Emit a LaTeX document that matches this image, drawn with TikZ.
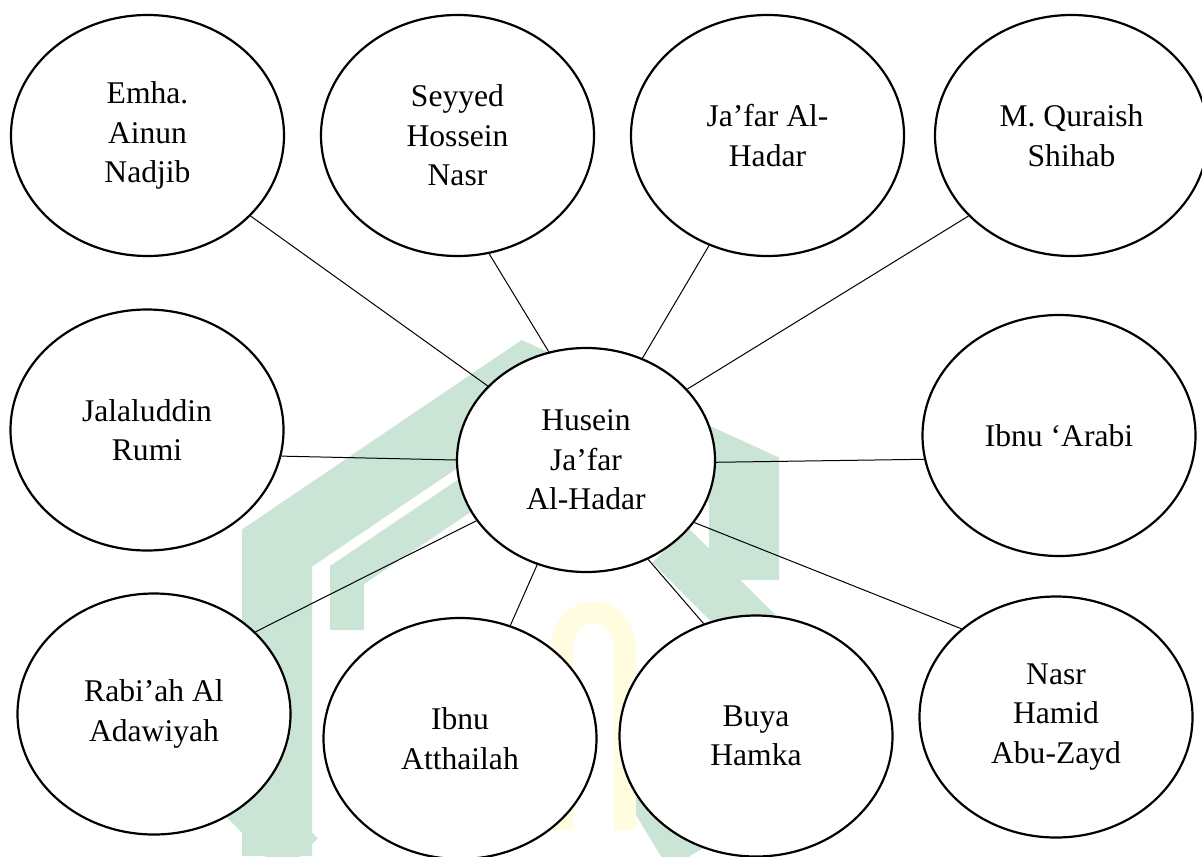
\documentclass[tikz,border=0pt]{standalone}
\usepackage{fontspec}
\setmainfont{Liberation Serif}
\usetikzlibrary{shapes.geometric}
\definecolor{wmgreen}{RGB}{202,228,213}
\definecolor{wmyellow}{RGB}{255,252,224}
\begin{document}
\begin{tikzpicture}[x=0.5pt,y=-0.5pt,
  person/.style={ellipse, draw, fill=white, line width=1.1pt,
    minimum width=136.5pt, minimum height=120.5pt, inner sep=0pt,
    align=center, font=\fontsize{15.8}{19.75}\selectfont},
  hub/.style={person, minimum width=129pt, minimum height=112pt},
  link/.style={line width=0.5pt},
  wm/.style={draw=wmgreen, line join=miter},
  wmy/.style={draw=wmyellow}]
\useasboundingbox (0,0) rectangle (1202,856);
% faint watermark
\draw[wm, line width=35pt] (277,856) -- (277,548) -- (525,380) -- (744,480) -- (744,580);
\draw[wm, line width=17pt] (347,630) -- (347,575) -- (470,492);
\draw[wm, line width=25pt] (670,545) -- (790,665);
\draw[wm, line width=25pt] (225,780) -- (300,856);
\draw[wm, line width=25pt] (650,790) -- (690,856);
\draw[wmy, line width=11pt] (562,830) -- (562,650) .. controls (562,600) and (625,600) .. (625,650) -- (625,830);
% nodes
\node[person] (emha) at (147.5,135.5) {Emha.\\Ainun\\Nadjib};
\node[person] (seyyed) at (457.5,135.5) {Seyyed\\Hossein\\Nasr};
\node[person] (jafar) at (767.5,135.5) {Ja’far Al-\\Hadar};
\node[person] (quraish) at (1071.5,135.5) {M. Quraish\\Shihab};
\node[person] (jalal) at (147,430) {Jalaluddin\\Rumi};
\node[hub] (husein) at (586,460) {Husein\\Ja’far\\Al-Hadar};
\node[person] (arabi) at (1059,435.5) {Ibnu ‘Arabi};
\node[person] (rabiah) at (154,714) {Rabi’ah Al\\Adawiyah};
\node[person] (atthailah) at (460,738.5) {Ibnu\\Atthailah};
\node[person] (buya) at (756,736) {Buya\\Hamka};
\node[person] (nasr) at (1056,717) {Nasr\\Hamid\\Abu-Zayd};
% connectors
\draw[link] (emha.-38) -- (husein.143.8);
\draw[link] (seyyed.-75.9) -- (husein.109.6);
\draw[link] (jafar.-118.3) -- (husein.61.7);
\draw[link] (quraish.-142.7) -- (husein.35.2);
\draw[link] (jalal.-11.2) -- (husein.180.4);
\draw[link] (arabi.190.2) -- (husein.-1.3);
\draw[link] (rabiah.39.5) -- (husein.209.6);
\draw[link] (atthailah.66.2) -- (husein.245);
\draw[link] (buya.115.1) -- (husein.-58);
\draw[link] (nasr.137.5) -- (husein.-30.5);
\end{tikzpicture}
\end{document}
